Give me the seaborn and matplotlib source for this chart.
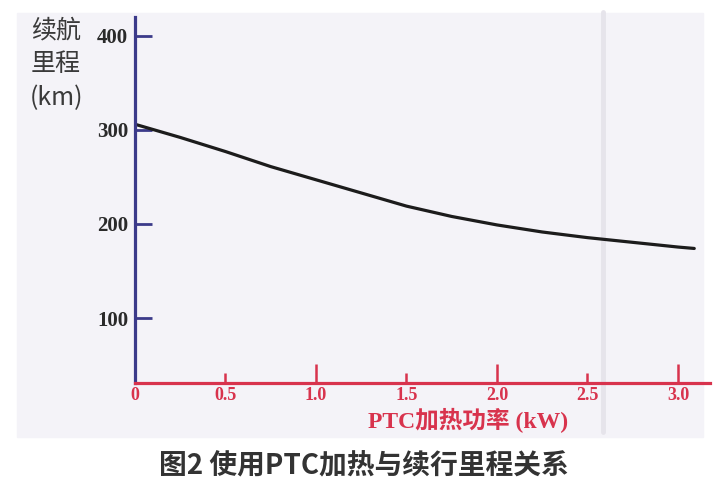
import matplotlib
matplotlib.use("Agg")
import matplotlib.pyplot as plt
import seaborn as sns
import pandas as pd
from matplotlib.patches import Rectangle
from matplotlib.lines import Line2D

# 数据
power_kw = [0, 0.25, 0.5, 0.75, 1.0, 1.25, 1.5, 1.75, 2.0, 2.25, 2.5, 2.75, 3.0, 3.09]
range_km = [306, 292, 277, 261, 247, 233, 219, 208, 199, 191.5, 185.5, 180.5, 175.5, 174]

x_ticks = [0, 0.5, 1.0, 1.5, 2.0, 2.5, 3.0]
x_tick_labels = ['0', '0.5', '1.0', '1.5', '2.0', '2.5', '3.0']
y_ticks = [100, 200, 300, 400]

df = pd.DataFrame({'功率': power_kw, '续航': range_km})

sns.set_theme(style='white')
plt.rcParams['font.family'] = ['Noto Sans CJK SC', 'DejaVu Sans']

blue = '#3b3a8a'
red = '#d8334d'

fig = plt.figure(figsize=(7.18, 4.95), dpi=100)
fig.patch.set_facecolor('white')
# 纸张底色
fig.add_artist(Rectangle((17 / 718, 1 - 437 / 495), 686 / 718, 424 / 495,
                         transform=fig.transFigure, color='#f4f3f8', zorder=-2))
# 扫描留下的竖条
fig.add_artist(Line2D([603 / 718, 603 / 718], [1 - 12 / 495, 1 - 432 / 495],
                      transform=fig.transFigure, color='#e6e4eb', lw=3.5, zorder=-1))

ax = fig.add_axes([135 / 718, 1 - 383 / 495, 575 / 718, 366 / 495])
ax.set_facecolor('none')

sns.lineplot(data=df, x='功率', y='续航', ax=ax, color='#1c1c1c', linewidth=2.3)

ax.set_xlim(0, 3.177)
ax.set_ylim(31, 420)

for s in ['top', 'right']:
    ax.spines[s].set_visible(False)
ax.spines['left'].set_color(blue)
ax.spines['left'].set_linewidth(2.3)
ax.spines['bottom'].set_color(red)
ax.spines['bottom'].set_linewidth(2.3)

ax.set_xticks(x_ticks)
ax.set_xticklabels(x_tick_labels, family=['Liberation Serif', 'DejaVu Serif'],
                   fontsize=13, fontweight='bold', color=red)
ax.set_yticks(y_ticks)
ax.set_yticklabels([str(v) for v in y_ticks], family=['Liberation Serif', 'DejaVu Serif'],
                   fontsize=15, fontweight='bold', color='#2a2a2a')

ax.tick_params(axis='x', direction='in', color=red, width=1.8, pad=3, bottom=True)
ax.tick_params(axis='y', direction='in', color=blue, width=2, length=12, pad=5, left=True)
for tick, val in zip(ax.xaxis.get_major_ticks(), x_ticks):
    tick.tick1line.set_markersize(14 if val in (1.0, 2.0, 3.0) else (7 if val else 0))

ax.set_xlabel('')
ax.set_ylabel('')

fig.text(56 / 718, 1 - 17 / 495, '续航\n里程\n(km)', ha='center', va='top',
         fontsize=18, color='#3a3a3a', linespacing=1.4)
fig.text(468 / 718, 1 - 420 / 495, 'PTC加热功率 (kW)', ha='center', va='center',
         fontsize=17, color=red, fontweight='bold',
         family=['Liberation Serif', 'Noto Sans CJK SC'])
fig.text(364 / 718, 1 - 466 / 495, '图2 使用PTC加热与续行里程关系', ha='center', va='center',
         fontsize=20, color='#333333', fontweight='bold')

fig.savefig('out.png', dpi=100)
